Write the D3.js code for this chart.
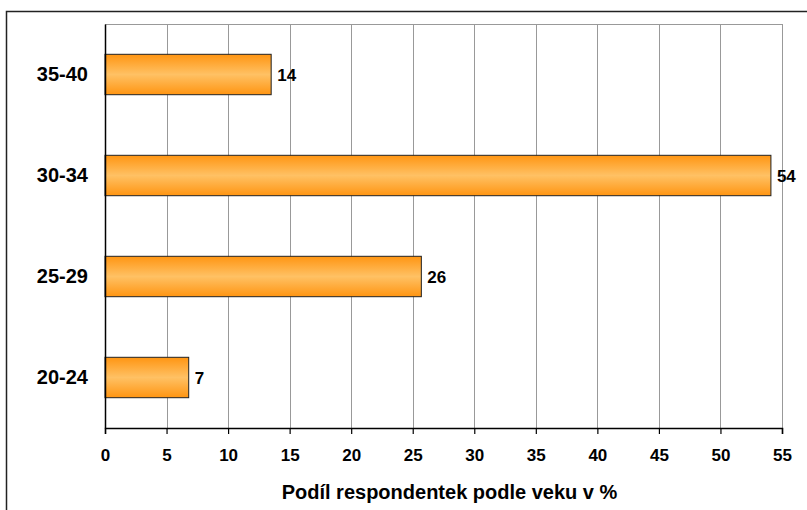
<!DOCTYPE html>
<html><head><meta charset="utf-8">
<script src="https://cdn.jsdelivr.net/npm/d3@7/dist/d3.min.js"></script>
<style>body{margin:0;background:#fff}svg{display:block}text{font-family:"Liberation Sans",Arial,sans-serif;font-weight:bold;fill:#000}</style>
</head><body><svg id="c" width="807" height="510"></svg>
<script>
const categories = ["20-24","25-29","30-34","35-40"];
const values = [6.8, 25.7, 54.1, 13.5];
const valueLabels = ["7","26","54","14"];
const xTicks = [0,5,10,15,20,25,30,35,40,45,50,55];
const axisTitle = "Podíl respondentek podle veku v %";

const svg = d3.select("#c");
const L = 105, R = 782, T = 24, B = 428;
const x = d3.scaleLinear().domain([0,55]).range([L,R]);
const y = d3.scaleBand().domain(categories.slice().reverse()).range([T,B]).paddingInner(0.6).paddingOuter(0.3);

const defs = svg.append("defs");
const g = defs.append("linearGradient").attr("id","bg").attr("x1",0).attr("y1",0).attr("x2",0).attr("y2",1);
g.append("stop").attr("offset","0%").attr("stop-color","#FF9512");
g.append("stop").attr("offset","50%").attr("stop-color","#FFC164");
g.append("stop").attr("offset","100%").attr("stop-color","#FF9512");

// outer border
svg.append("rect").attr("x",6.5).attr("y",11.5).attr("width",830).attr("height",530)
  .attr("fill","none").attr("stroke","#222").attr("stroke-width",1.5);

// gridlines
svg.append("g").selectAll("line").data(xTicks.filter(d=>d>0)).join("line")
  .attr("x1",d=>Math.round(x(d))+0.5).attr("x2",d=>Math.round(x(d))+0.5)
  .attr("y1",T).attr("y2",B).attr("stroke","#999").attr("stroke-width",1);
svg.append("line").attr("x1",L).attr("x2",R).attr("y1",T+0.5).attr("y2",T+0.5).attr("stroke","#999");

// bars
svg.append("g").selectAll("rect").data(categories).join("rect")
  .attr("x",x(0)).attr("y",d=>y(d))
  .attr("width",(d,i)=>x(values[i])-x(0)).attr("height",y.bandwidth())
  .attr("fill","url(#bg)").attr("stroke","#222").attr("stroke-width",1);

// value labels
svg.append("g").selectAll("text").data(categories).join("text")
  .attr("x",(d,i)=>x(values[i])+6).attr("y",d=>y(d)+y.bandwidth()/2)
  .attr("dy","0.36em").attr("font-size",17).text((d,i)=>valueLabels[i]);

// x axis
const xa = svg.append("g").attr("transform",`translate(0,${B})`)
  .call(d3.axisBottom(x).tickValues(xTicks).tickSize(6).tickPadding(15));
xa.select(".domain").attr("stroke","#000").attr("stroke-width",1.5);
xa.selectAll(".tick line").attr("stroke","#000").attr("stroke-width",1.2);
xa.selectAll(".tick text").attr("font-size",17).attr("font-family","Liberation Sans, Arial, sans-serif").attr("font-weight","bold").attr("fill","#000");

// y axis
const ya = svg.append("g").attr("transform",`translate(${L},0)`)
  .call(d3.axisLeft(y).tickSize(0).tickPadding(17));
ya.select(".domain").attr("stroke","#000").attr("stroke-width",1.5);
ya.selectAll(".tick text").attr("font-size",20).attr("font-family","Liberation Sans, Arial, sans-serif").attr("font-weight","bold").attr("fill","#000");

svg.append("text").attr("x",(L+R)/2+6).attr("y",499).attr("text-anchor","middle")
  .attr("font-size",20).text(axisTitle);
</script></body></html>
